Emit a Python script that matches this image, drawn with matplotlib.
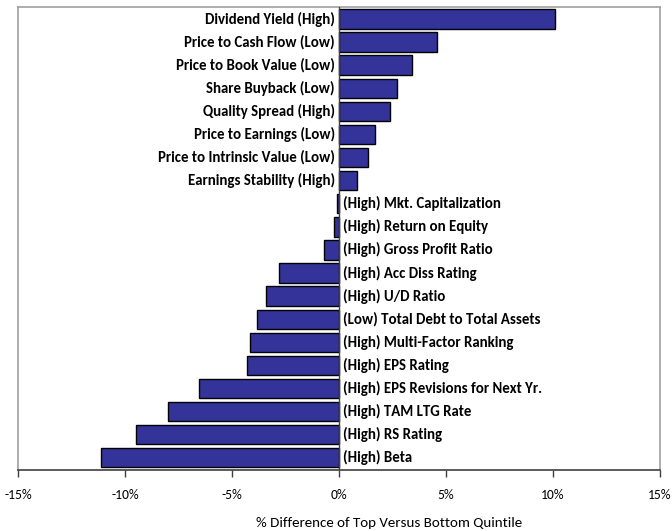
import matplotlib
matplotlib.use("Agg")
import matplotlib.pyplot as plt
from matplotlib import font_manager
from matplotlib.ticker import FuncFormatter

categories = [
    "Dividend Yield (High)",
    "Price to Cash Flow (Low)",
    "Price to Book Value (Low)",
    "Share Buyback (Low)",
    "Quality Spread (High)",
    "Price to Earnings (Low)",
    "Price to Intrinsic Value (Low)",
    "Earnings Stability (High)",
    "(High) Mkt. Capitalization",
    "(High) Return on Equity",
    "(High) Gross Profit Ratio",
    "(High) Acc Diss Rating",
    "(High) U/D Ratio",
    "(Low) Total Debt to Total Assets",
    "(High) Multi-Factor Ranking",
    "(High) EPS Rating",
    "(High) EPS Revisions for Next Yr.",
    "(High) TAM LTG Rate",
    "(High) RS Rating",
    "(High) Beta",
]
values = [10.1, 4.6, 3.4, 2.7, 2.4, 1.7, 1.35, 0.85, -0.1, -0.22, -0.7,
          -2.8, -3.4, -3.85, -4.15, -4.3, -6.55, -8.0, -9.5, -11.15]
xticks = [-15, -10, -5, 0, 5, 10, 15]
xlabel = "% Difference of Top Versus Bottom Quintile"

names = {f.name for f in font_manager.fontManager.ttflist}
fam = "DejaVu Sans"
for cand in ["Carlito", "Liberation Sans Narrow", "Roboto Condensed", "Lato"]:
    if cand in names:
        fam = cand
        break

fig = plt.figure(figsize=(6.72, 5.31), dpi=100)
ax = fig.add_axes([0.027, 0.114, 0.955, 0.872])

n = len(categories)
ypos = list(range(n))[::-1]
ax.barh(ypos, values, height=0.84, color="#333399", edgecolor="black", linewidth=1.0, zorder=2)

for y, v, c in zip(ypos, values, categories):
    if v >= 0:
        ax.text(-0.2, y, c, ha="right", va="center", fontsize=10.7, fontweight="bold", family=fam, zorder=3)
    else:
        ax.text(0.2, y, c, ha="left", va="center", fontsize=10.7, fontweight="bold", family=fam, zorder=3)

ax.set_xlim(-15, 15)
ax.set_ylim(-0.55, n - 0.5)
ax.set_xticks(xticks)
ax.xaxis.set_major_formatter(FuncFormatter(lambda v, p: f"{int(round(v))}%"))
ax.set_yticks([])
ax.axvline(0, color="#404040", linewidth=1.0, zorder=3)

for s in ["left", "top", "right"]:
    ax.spines[s].set_color("#a0a0a0")
    ax.spines[s].set_linewidth(1.2)
ax.spines["bottom"].set_color("#404040")
ax.spines["bottom"].set_linewidth(1.2)
ax.tick_params(axis="x", direction="out", length=5, width=1, color="#404040", pad=8, labelsize=9.8)
for lbl in ax.get_xticklabels():
    lbl.set_family(fam)
ax.set_xlabel(xlabel, fontsize=10.8, family=fam, labelpad=12)
ax.xaxis.label.set_x(0.578)

fig.savefig("out.png", dpi=100)
